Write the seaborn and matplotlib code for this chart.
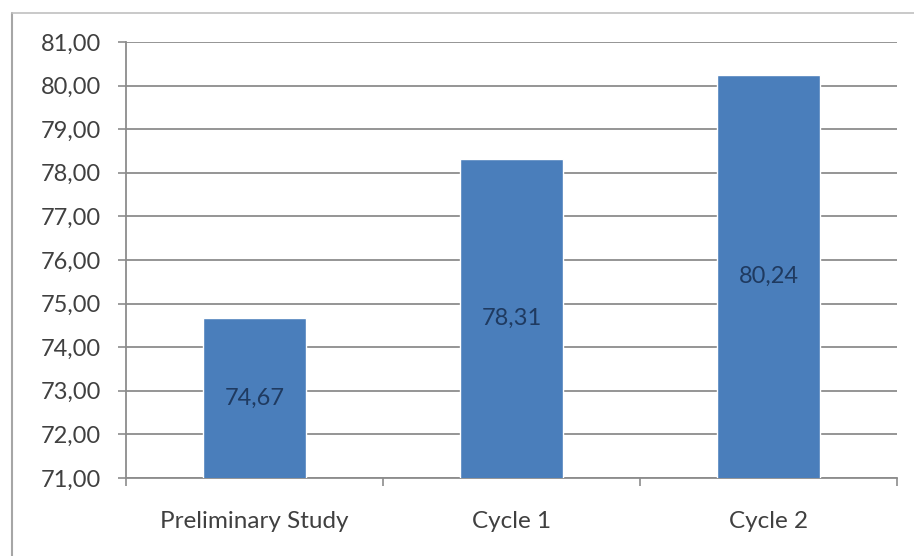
import pandas as pd
import numpy as np
import matplotlib.pyplot as plt
import seaborn as sns
from matplotlib.lines import Line2D
from matplotlib.ticker import FuncFormatter

categories = ["Preliminary Study", "Cycle 1", "Cycle 2"]
scores = [74.67, 78.31, 80.24]
y_ticks = [71, 72, 73, 74, 75, 76, 77, 78, 79, 80, 81]

df = pd.DataFrame({"stage": categories, "score": scores})

sns.set_style("white")
plt.rcParams["font.family"] = ["Lato", "DejaVu Sans"]

fig = plt.figure(figsize=(9.14, 5.56), dpi=100)
ax = fig.add_axes([126 / 914, 1 - 478 / 556, (897 - 126) / 914, (478 - 42) / 556])

sns.barplot(
    data=df,
    x="stage",
    y="score",
    color="#4A7EBB",
    width=0.4,
    saturation=1,
    ax=ax,
    zorder=3
)

ax.set_ylim(71, 81)
ax.set_xlim(-0.5, 2.5)
ax.set_yticks(y_ticks)
ax.yaxis.set_major_formatter(FuncFormatter(lambda v, p: f"{v:.2f}".replace(".", ",")))
ax.grid(axis="y", color="#8C8C8C", linewidth=1.3, zorder=0)
ax.set_axisbelow(True)

ax.set_xticks([-0.5, 0.5, 1.5, 2.5], minor=True)
ax.tick_params(axis="x", which="minor", length=6, width=1.2, color="#8C8C8C", direction="out")
ax.tick_params(axis="x", which="major", length=0, pad=24, labelsize=17.5, labelcolor="#404040")
ax.tick_params(axis="y", length=6, width=1.2, color="#8C8C8C", direction="out",
               labelsize=17, labelcolor="#404040", pad=12)
ax.xaxis.set_ticks_position("bottom")
ax.yaxis.set_ticks_position("left")

for side in ["top", "right"]:
    ax.spines[side].set_visible(False)
for side in ["left", "bottom"]:
    ax.spines[side].set_color("#8C8C8C")
    ax.spines[side].set_linewidth(1.3)

ax.set_xlabel("")
ax.set_ylabel("")

labels = [f"{v:.2f}".replace(".", ",") for v in scores]
ax.bar_label(ax.containers[0], labels=labels, label_type="center",
             fontsize=17, color="#1F3A60")

# chart frame (left and top edges visible)
fig.add_artist(Line2D([12 / 914, 12 / 914], [0, 1 - 13 / 556], color="#A6A6A6", linewidth=1.5))
fig.add_artist(Line2D([12 / 914, 1], [1 - 13 / 556, 1 - 13 / 556], color="#C0C0C0", linewidth=1.2))

fig.savefig("out.png", dpi=100)
